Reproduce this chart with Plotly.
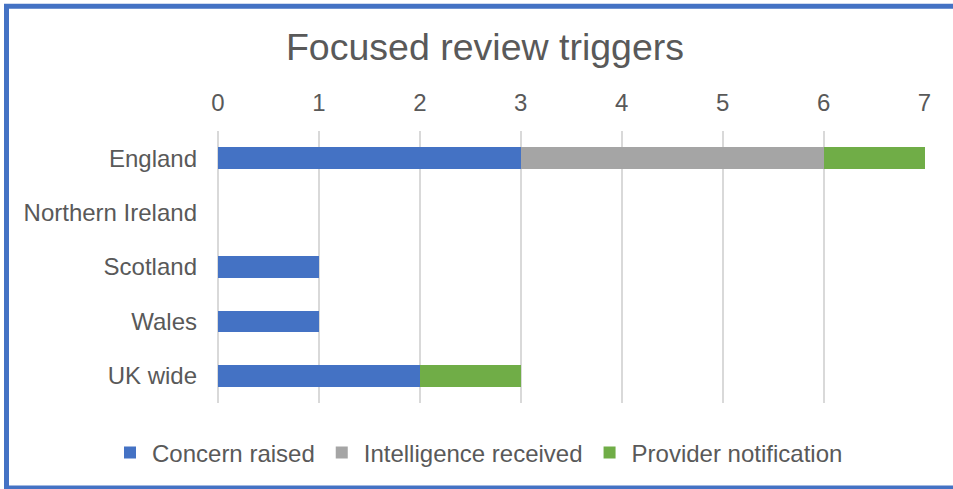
import plotly.graph_objects as go

categories = ["England", "Northern Ireland", "Scotland", "Wales", "UK wide"]
concern_raised = [3, 0, 1, 1, 2]
intelligence_received = [3, 0, 0, 0, 0]
provider_notification = [1, 0, 0, 0, 1]
x_ticks = [0, 1, 2, 3, 4, 5, 6, 7]

series = [
    ("Concern raised", concern_raised, "#4472C4"),
    ("Intelligence received", intelligence_received, "#A5A5A5"),
    ("Provider notification", provider_notification, "#70AD47"),
]

W, H = 953, 489
L, R, T, B = 218, 28, 131, 86
pw, ph = W - L - R, H - T - B

def px_x(x):
    return (x - L) / pw

def px_y(y):
    return (H - B - y) / ph

fig = go.Figure()
for name, vals, color in series:
    fig.add_trace(go.Bar(
        y=categories, x=vals, name=name, orientation="h",
        marker=dict(color=color, line=dict(width=0)),
    ))

font_col = "#595959"
frame_path = "M {a},{b} L {c},{b} L {c},{d} L {a},{d}".format(
    a=px_x(1100), b=px_y(488), c=px_x(6.5), d=px_y(6.3))

fig.update_layout(
    width=W, height=H,
    barmode="stack", bargap=0.6,
    margin=dict(l=L, r=R, t=T, b=B),
    paper_bgcolor="white", plot_bgcolor="white",
    font=dict(family="Liberation Sans, Arial, sans-serif", color=font_col, size=24),
    title=dict(text="Focused review triggers", x=485 / W, xref="container", xanchor="center",
               y=1 - 47 / H, yref="container", yanchor="middle",
               font=dict(size=37.5, color=font_col)),
    xaxis=dict(side="top", range=[0, 7.005], tickvals=x_ticks, showgrid=True,
               gridcolor="#D9D9D9", gridwidth=1.5, zeroline=True, zerolinecolor="#D9D9D9",
               zerolinewidth=1.5, showline=False, ticks="", ticklabelstandoff=14,
               tickfont=dict(size=24, color=font_col)),
    yaxis=dict(autorange="reversed", showgrid=False, zeroline=False, showline=False,
               ticks="", ticklabelstandoff=20, tickfont=dict(size=24, color=font_col)),
    legend=dict(orientation="h", x=px_x(108), xanchor="left", y=px_y(453), yanchor="middle",
                font=dict(size=24, color=font_col), traceorder="normal", itemwidth=34,
                bgcolor="rgba(0,0,0,0)"),
    shapes=[
        dict(type="path", xref="paper", yref="paper", path=frame_path,
             fillcolor="rgba(0,0,0,0)", line=dict(color="#4472C4", width=5), layer="below"),
    ],
)

fig.write_html(
    "out.html",
    config={"displayModeBar": False},
    post_script="document.body.style.margin='0';document.body.style.overflow='hidden';",
)
